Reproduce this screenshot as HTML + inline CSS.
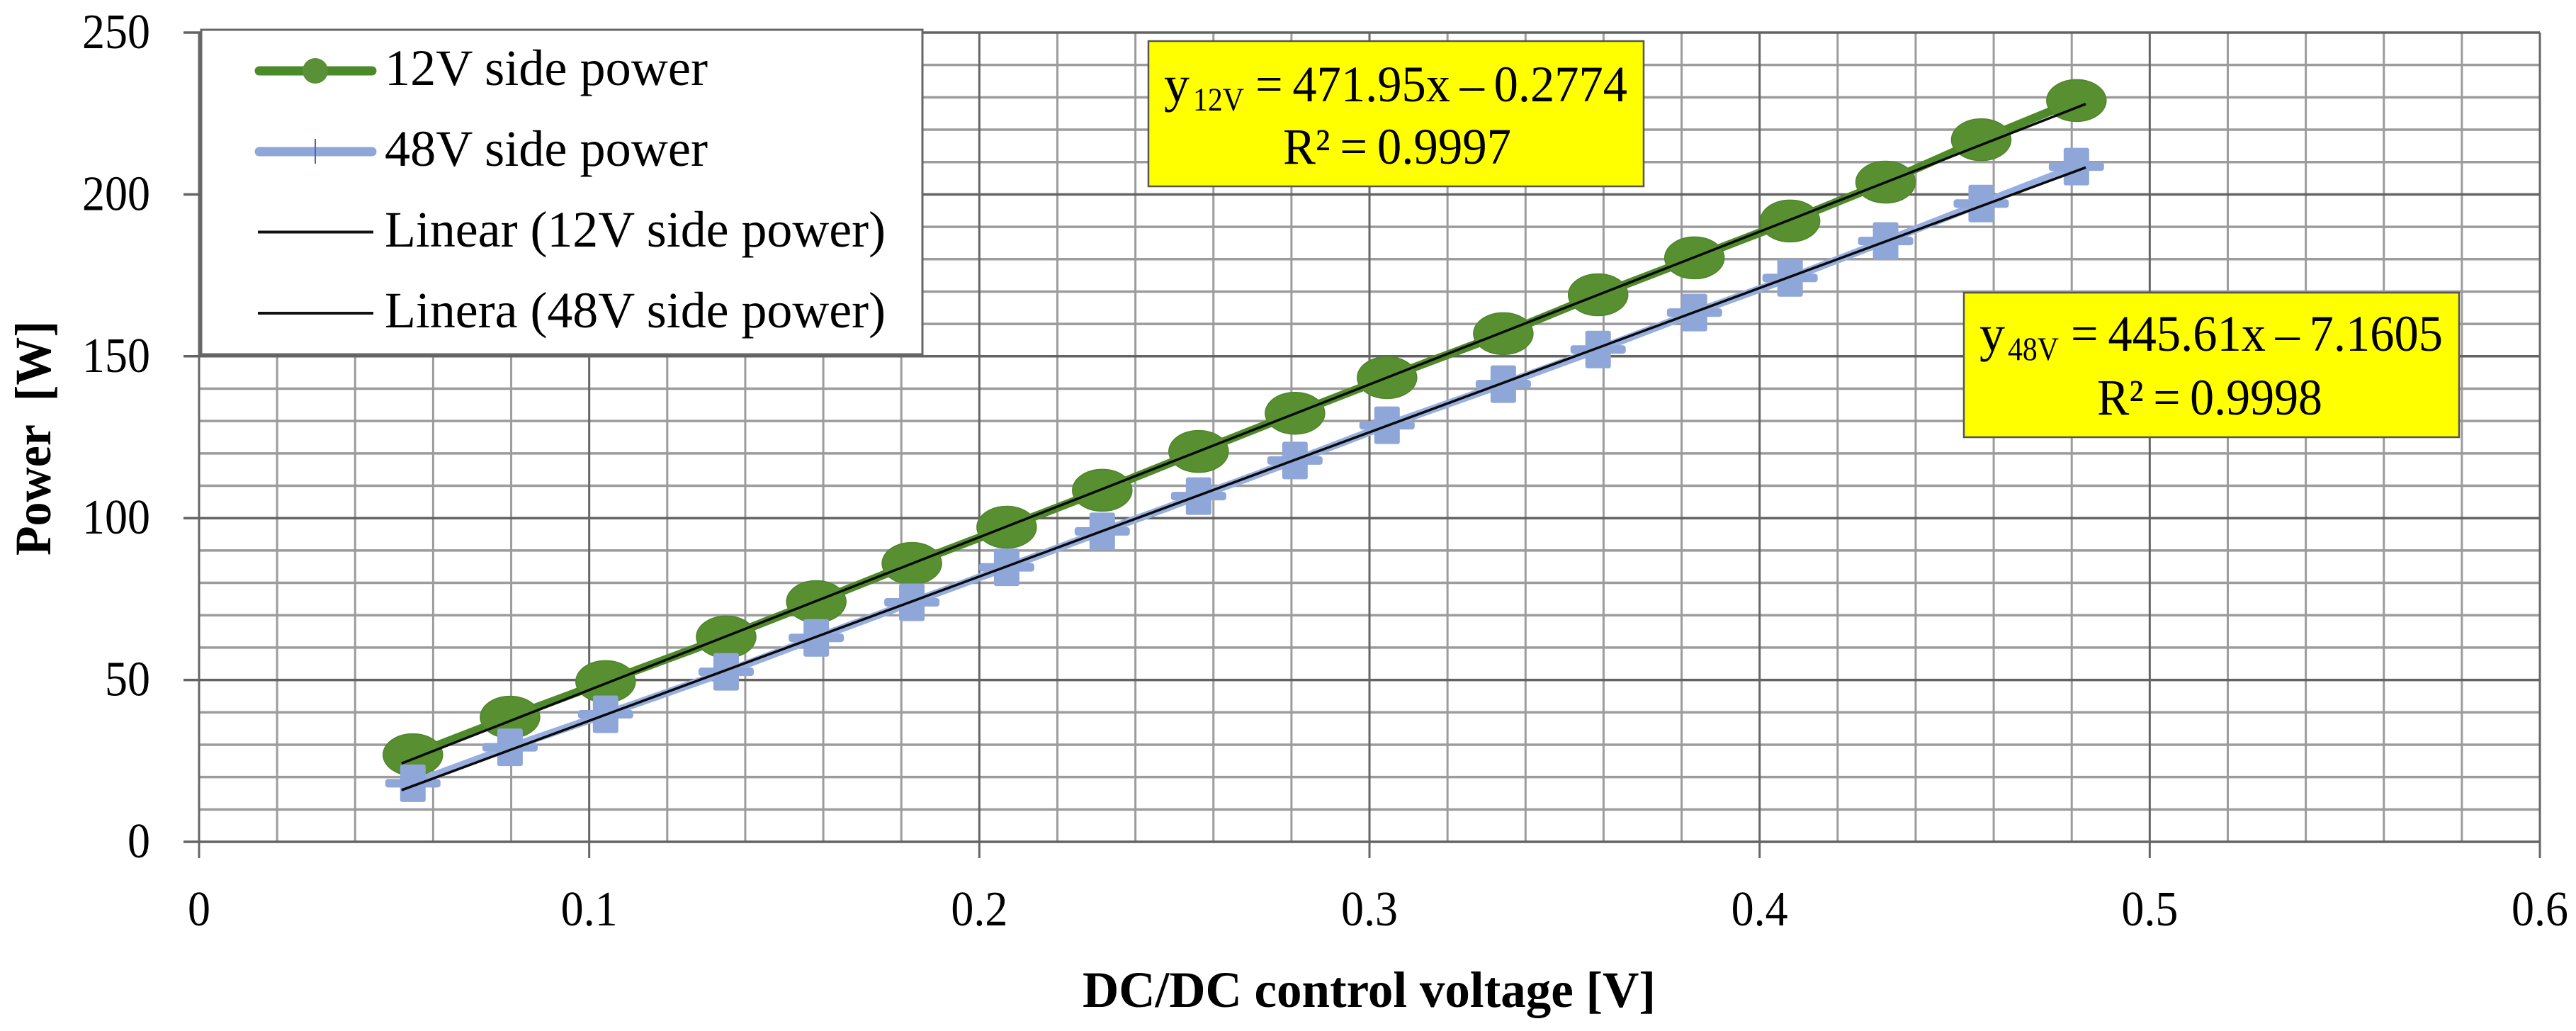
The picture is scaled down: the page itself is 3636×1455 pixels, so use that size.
<!DOCTYPE html>
<html lang="en">
<head>
<meta charset="utf-8">
<title>Power vs DC/DC control voltage</title>
<style>
html,body{margin:0;padding:0;background:#fff;}
svg{display:block;}
text{font-family:"Liberation Serif",serif;fill:#000;white-space:pre;}
</style>
</head>
<body>
<svg id="chart" xmlns="http://www.w3.org/2000/svg" width="3636" height="1455" viewBox="0 0 3636 1455">
  <rect x="0" y="0" width="3636" height="1455" fill="#fff"/>
  <g id="grid"></g>
  <g id="axes"></g>
  <g id="series"></g>

  <text x="1528" y="1421" font-size="72" font-weight="bold" textLength="809" lengthAdjust="spacingAndGlyphs">DC/DC control voltage [V]</text>
  <text transform="translate(71,784) rotate(-90)" x="0" y="0" font-size="72" font-weight="bold" textLength="331" lengthAdjust="spacingAndGlyphs">Power  [W]</text>

  <g>
    <rect x="284" y="42" width="1018" height="458" fill="#fff" stroke="#666" stroke-width="3"/>
    <g>
      <line x1="366" y1="100" x2="525" y2="100" stroke="#4a8a2a" stroke-width="13" stroke-linecap="round"/>
      <circle cx="445" cy="100" r="18" fill="#5a9036"/>
      <text x="543" y="120" font-size="72" textLength="456" lengthAdjust="spacingAndGlyphs">12V side power</text>
    </g>
    <g>
      <line x1="366" y1="214" x2="525" y2="214" stroke="#8ea6d8" stroke-width="13" stroke-linecap="round"/>
      <line x1="445" y1="196" x2="445" y2="231" stroke="#4a66b0" stroke-width="2"/>
      <text x="543" y="234" font-size="72" textLength="456" lengthAdjust="spacingAndGlyphs">48V side power</text>
    </g>
    <g>
      <line x1="364" y1="327.5" x2="527" y2="327.5" stroke="#111" stroke-width="4"/>
      <text x="543" y="348" font-size="72" textLength="707" lengthAdjust="spacingAndGlyphs">Linear (12V side power)</text>
    </g>
    <g>
      <line x1="364" y1="442" x2="527" y2="442" stroke="#111" stroke-width="4"/>
      <text x="543" y="462" font-size="72" textLength="707" lengthAdjust="spacingAndGlyphs">Linera (48V side power)</text>
    </g>
  </g>

  <g>
    <rect x="1621" y="58" width="699" height="205" fill="#ffff00" stroke="#555" stroke-width="2.5"/>
    <text x="1643" y="143" font-size="72">y</text>
    <text x="1684" y="156" font-size="47" textLength="72" lengthAdjust="spacingAndGlyphs">12V</text>
    <text x="1772" y="143" font-size="72" textLength="525" lengthAdjust="spacingAndGlyphs">=&#8201;471.95x&#8201;–&#8201;0.2774</text>
    <text x="1811" y="231" font-size="72" textLength="322" lengthAdjust="spacingAndGlyphs">R²&#8201;=&#8201;0.9997</text>
  </g>
  <g>
    <rect x="2772" y="413" width="699" height="204" fill="#ffff00" stroke="#555" stroke-width="2.5"/>
    <text x="2794" y="495" font-size="72">y</text>
    <text x="2834" y="508" font-size="47" textLength="72" lengthAdjust="spacingAndGlyphs">48V</text>
    <text x="2923" y="495" font-size="72" textLength="525" lengthAdjust="spacingAndGlyphs">=&#8201;445.61x&#8201;–&#8201;7.1605</text>
    <text x="2960" y="585" font-size="72" textLength="318" lengthAdjust="spacingAndGlyphs">R²&#8201;=&#8201;0.9998</text>
  </g>
</svg>

<script>
const voltage = [0.0548,0.0797,0.1042,0.1351,0.1582,0.1827,0.2070,0.2315,0.2562,0.2809,0.3045,0.3343,0.3586,0.3833,0.4078,0.4323,0.4568,0.4812];
const power12V = [26.9,38.5,49.5,63.3,74.2,86.0,97.2,108.6,120.6,132.4,143.4,157.0,169.0,180.4,191.8,203.8,216.9,229.0];
const power48V = [18.1,29.2,39.4,52.5,63.0,74.0,84.8,95.9,106.8,117.8,128.7,141.4,152.1,163.5,174.2,185.6,197.2,208.6];
const yMajorTicks = [0,50,100,150,200,250];
const yMinorStep = [10];
const xMajorTicks = [0,0.1,0.2,0.3,0.4,0.5,0.6];
const xMinorStep = [0.02];
const xTickLabels = ['0','0.1','0.2','0.3','0.4','0.5','0.6'];
const yTickLabels = ['0','50','100','150','200','250'];
const trend12V = [471.95,-0.2774];
const trend48V = [445.61,-7.1605];
const trendRange = [0.0519,0.4836];

const X0 = 281, XPER = 5506.7, Y0 = 1188, YPER = 4.568;
const xScale = v => X0 + v * XPER;
const yScale = p => Y0 - p * YPER;
const NS = 'http://www.w3.org/2000/svg';
const make = (tag, attrs, parent) => {
  const el = document.createElementNS(NS, tag);
  for (const k in attrs) el.setAttribute(k, attrs[k]);
  parent.appendChild(el);
  return el;
};
const grid = document.getElementById('grid');
const axes = document.getElementById('axes');
const series = document.getElementById('series');
const xMax = xMajorTicks[xMajorTicks.length - 1];
const yMax = yMajorTicks[yMajorTicks.length - 1];

// minor grid
for (let p = yMinorStep[0]; p < yMax; p += yMinorStep[0]) {
  if (p % 50 === 0) continue;
  const l = make('line', {x1:xScale(0), x2:xScale(xMax), y1:yScale(p), y2:yScale(p), stroke:'#9c9c9c', 'stroke-width':3.5}, grid);
  
  
}
for (let i = 1; i * xMinorStep[0] < xMax - 1e-6; i++) {
  if (i % 5 === 0) continue;
  const v = i * xMinorStep[0];
  const l = make('line', {x1:xScale(v), x2:xScale(v), y1:yScale(0), y2:yScale(yMax), stroke:'#9c9c9c', 'stroke-width':3}, grid);
  
  
}
// major grid, ticks, labels
yMajorTicks.forEach((p, i) => {
  const l = make('line', {x1:259, x2:xScale(xMax), y1:yScale(p), y2:yScale(p), stroke:'#636363', 'stroke-width':3.5}, axes);
  
  
  const t = make('text', {x:212, y:yScale(p) + 22, 'font-size':70, 'text-anchor':'end', textLength:yTickLabels[i].length * 32, lengthAdjust:'spacingAndGlyphs'}, axes);
  t.textContent = yTickLabels[i];
  
  
});
xMajorTicks.forEach((v, i) => {
  const l = make('line', {x1:xScale(v), x2:xScale(v), y1:yScale(yMax), y2:1211, stroke:'#666', 'stroke-width':3}, axes);
  
  
  const t = make('text', {x:xScale(v), y:1306, 'font-size':70, 'text-anchor':'middle', textLength:xTickLabels[i].length === 1 ? 32 : 80, lengthAdjust:'spacingAndGlyphs'}, axes);
  t.textContent = xTickLabels[i];
  
  
});

// series 12V
const pts12 = voltage.map((v, i) => xScale(v) + ',' + yScale(power12V[i])).join(' ');
const line12 = make('polyline', {points:pts12, fill:'none', stroke:'#4e8a2a', 'stroke-width':12}, series);


voltage.forEach((v, i) => {
  const m = make('ellipse', {cx:xScale(v), cy:yScale(power12V[i]), rx:42, ry:29.5, fill:'#578f31', stroke:'#4f8529', 'stroke-width':1.5}, series);
  
  
});
// series 48V
const pts48 = voltage.map((v, i) => xScale(v) + ',' + yScale(power48V[i])).join(' ');
const line48 = make('polyline', {points:pts48, fill:'none', stroke:'#97aee0', 'stroke-width':11}, series);


voltage.forEach((v, i) => {
  const cx = xScale(v), cy = yScale(power48V[i]);
  const g = make('g', {}, series);
  
  
  make('rect', {x:cx - 18, y:cy - 26.5, width:36, height:53, rx:3, fill:'#8ea6d8'}, g);
  make('rect', {x:cx - 39, y:cy - 6, width:78, height:12, rx:4, fill:'#8ea6d8'}, g);
});
// trend lines
[[trend12V, 'trendline-12v'], [trend48V, 'trendline-48v']].forEach(([tr, name]) => {
  const y = v => tr[0] * v + tr[1];
  const l = make('line', {x1:xScale(trendRange[0]), y1:yScale(y(trendRange[0])), x2:xScale(trendRange[1]), y2:yScale(y(trendRange[1])), stroke:'#0a0a0a', 'stroke-width':3.5}, series);
  
  
});
</script>
</body>
</html>
